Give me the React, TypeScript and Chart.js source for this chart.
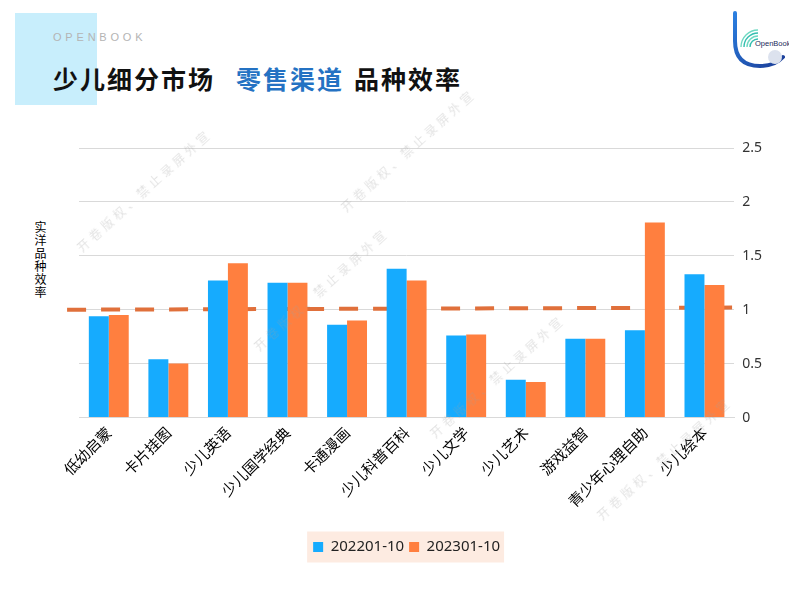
import React, { useEffect, useRef } from "react";
import { Chart, registerables } from "chart.js";

Chart.register(...registerables);

const categories = [
  "低幼启蒙",
  "卡片挂图",
  "少儿英语",
  "少儿国学经典",
  "卡通漫画",
  "少儿科普百科",
  "少儿文学",
  "少儿艺术",
  "游戏益智",
  "青少年心理自助",
  "少儿绘本",
];
const seriesNames = ["202201-10", "202301-10"];
const values2022 = [0.94, 0.54, 1.27, 1.25, 0.86, 1.38, 0.76, 0.35, 0.73, 0.81, 1.33];
const values2023 = [0.95, 0.5, 1.43, 1.25, 0.9, 1.27, 0.77, 0.33, 0.73, 1.81, 1.23];
// dashed reference line: ends in category-index units, values on the y axis
const refLineCat = [-0.7, 10.62];
const refLineY = [1.0, 1.02];
const yMin = 0;
const yMax = 2.5;
const yStep = 0.5;

const FONT = "'Noto Sans', 'Noto Sans CJK SC', sans-serif";
const CJK = "'Noto Sans CJK SC', sans-serif";

const legendBg = {
  id: "legendBg",
  beforeDraw(chart: any) {
    const lg = chart.legend;
    if (!lg || !lg.legendHitBoxes || !lg.legendHitBoxes.length) return;
    const hb = lg.legendHitBoxes;
    let minX = Infinity, maxX = -Infinity, minY = Infinity, maxY = -Infinity;
    hb.forEach((h: any) => {
      minX = Math.min(minX, h.left);
      maxX = Math.max(maxX, h.left + h.width);
      minY = Math.min(minY, h.top);
      maxY = Math.max(maxY, h.top + h.height);
    });
    const ctx = chart.ctx;
    ctx.save();
    ctx.fillStyle = "#FDEBE1";
    ctx.fillRect(minX - 6, minY - 8, maxX - minX + 10, maxY - minY + 16);
    ctx.restore();
  },
};

const refLine = {
  id: "refLine",
  beforeDatasetsDraw(chart: any) {
    const xs = chart.scales.x;
    const ys = chart.scales.y;
    const ctx = chart.ctx;
    ctx.save();
    ctx.strokeStyle = "#E0703B";
    ctx.lineWidth = 4;
    ctx.setLineDash([19, 15]);
    ctx.beginPath();
    refLineCat.forEach((c, i) => {
      const px = xs.getPixelForValue(c);
      const py = ys.getPixelForValue(refLineY[i]);
      if (i === 0) ctx.moveTo(px, py);
      else ctx.lineTo(px, py);
    });
    ctx.stroke();
    ctx.restore();
  },
};

const watermarks = [
  [144, 190],
  [321, 289],
  [497, 376],
  [664, 458],
  [408, 150],
];

function Logo() {
  return (
    <svg width="58" height="58" viewBox="0 0 58 58" style={{ position: "absolute", left: 731, top: 11 }}>
      <defs>
        <linearGradient id="lg1" x1="0" y1="0" x2="1" y2="1">
          <stop offset="0" stopColor="#2B7FE0" />
          <stop offset="1" stopColor="#1B3C96" />
        </linearGradient>
      </defs>
      <path d="M4 2 L4 30 Q4 55 29 55 Q44 55 52 46" stroke="url(#lg1)" strokeWidth="4" fill="none" strokeLinecap="round" />
      {[8, 11, 14, 17].map((r, i) => (
        <path
          key={i}
          d={`M ${27 - r} 36 A ${r} ${r} 0 0 1 27 ${36 - r}`}
          stroke={i % 2 ? "#6FD9C2" : "#35BFB0"}
          strokeWidth="1.4"
          fill="none"
        />
      ))}
      <circle cx="44" cy="46" r="7" fill="#DCE2EE" />
      <text x="24" y="35" fontSize="7.5" fontFamily="'Liberation Sans', sans-serif" fill="#1A2A5A">
        OpenBook
      </text>
    </svg>
  );
}

export default function App() {
  const ref = useRef<HTMLCanvasElement | null>(null);

  useEffect(() => {
    document.body.style.margin = "0";
    if (!ref.current) return;
    const chart = new Chart(ref.current, {
      type: "bar",
      data: {
        labels: categories,
        datasets: [
          {
            label: seriesNames[0],
            data: values2022,
            backgroundColor: "#16ABFE",
          },
          {
            label: seriesNames[1],
            data: values2023,
            backgroundColor: "#FF7F3F",
          },
        ],
      },
      options: {
        animation: false,
        responsive: true,
        maintainAspectRatio: false,
        datasets: { bar: { categoryPercentage: 0.67, barPercentage: 1.0 } },
        layout: { padding: { top: 148, left: 79, right: 20, bottom: 31.5 } },
        plugins: {
          tooltip: { enabled: false },
          legend: {
            position: "bottom",
            fullSize: false,
            labels: {
              boxWidth: 10,
              boxHeight: 10,
              padding: 5,
              color: "#222",
              font: { family: FONT, size: 15 },
            },
          },
        },
        scales: {
          x: {
            offset: true,
            grid: { display: false, drawTicks: false, tickLength: 0 },
            border: { color: "#D9D9D9" },
            ticks: {
              maxRotation: 45,
              minRotation: 45,
              autoSkip: false,
              color: "#000",
              padding: 6,
              font: { family: CJK, size: 15 },
            },
            afterFit: (scale: any) => {
              scale.height += 18;
            },
          },
          y: {
            position: "right",
            min: yMin,
            max: yMax,
            grid: { color: "#D9D9D9", drawTicks: false, tickLength: 0 },
            border: { display: false },
            ticks: {
              stepSize: yStep,
              padding: 8,
              color: "#333",
              font: { family: FONT, size: 14 },
              callback: (v: any) => String(v),
            },
          },
        },
      } as any,
      plugins: [legendBg, refLine],
    });
    return () => chart.destroy();
  }, []);

  return (
    <div style={{ position: "fixed", left: 0, top: 0, width: 790, height: 596, background: "#fff", overflow: "hidden" }}>
      <div style={{ position: "absolute", left: 15, top: 13, width: 82, height: 92, background: "#C8EEFC" }} />
      <div
        style={{
          position: "absolute",
          left: 53,
          top: 31,
          fontFamily: "'Liberation Sans', sans-serif",
          fontSize: 11,
          letterSpacing: 3.8,
          color: "#B4B4B4",
          lineHeight: "12px",
        }}
      >
        OPENBOOK
      </div>
      <div
        style={{
          position: "absolute",
          left: 53,
          top: 63,
          fontFamily: CJK,
          fontWeight: 700,
          fontSize: 25,
          letterSpacing: 2,
          lineHeight: "30px",
          color: "#111",
          whiteSpace: "nowrap",
        }}
      >
        <span>少儿细分市场</span>
        <span style={{ marginLeft: 21, color: "#2472C3" }}>零售渠道</span>
        <span style={{ marginLeft: 10 }}>品种效率</span>
      </div>
      <Logo />
      <div
        style={{
          position: "absolute",
          left: 34,
          top: 221,
          fontFamily: CJK,
          fontSize: 12,
          lineHeight: "13px",
          writingMode: "vertical-rl",
          letterSpacing: 1,
          color: "#000",
        }}
      >
        实洋品种效率
      </div>
      <div style={{ position: "absolute", left: 0, top: 0, width: 790, height: 596 }}>
        <canvas ref={ref} />
      </div>
      {watermarks.map(([cx, cy], i) => (
        <div
          key={i}
          style={{
            position: "absolute",
            left: cx,
            top: cy,
            transform: "translate(-50%, -50%) rotate(-42deg)",
            fontFamily: CJK,
            fontSize: 12,
            letterSpacing: 4,
            color: "rgba(160,160,160,0.3)",
            whiteSpace: "nowrap",
            pointerEvents: "none",
          }}
        >
          开卷版权、禁止录屏外宣
        </div>
      ))}
    </div>
  );
}
